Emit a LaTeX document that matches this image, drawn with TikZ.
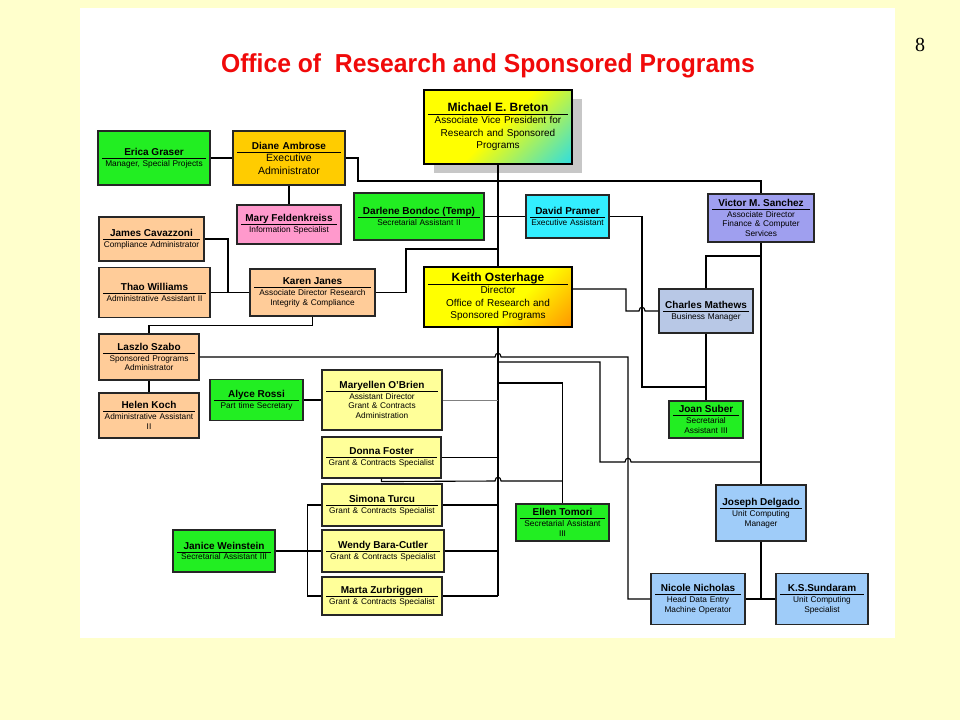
\documentclass[tikz,border=0pt]{standalone}
\usepackage{graphicx}
\usepackage{fontspec}
\setmainfont{Liberation Sans}
\newfontfamily\pagenumfont{Liberation Serif}
\usetikzlibrary{calc,shadows}
\definecolor{slidebg}{HTML}{FFFFCC}
\definecolor{titlered}{HTML}{F00A0A}
\definecolor{boxgreen}{HTML}{22EE22}
\definecolor{boxgold}{HTML}{FFCC00}
\definecolor{boxpink}{HTML}{FF99CC}
\definecolor{boxpeach}{HTML}{FFCC99}
\definecolor{boxaqua}{HTML}{33EEFF}
\definecolor{boxlavender}{HTML}{9F9FEF}
\definecolor{boxsteel}{HTML}{B8C8E6}
\definecolor{boxcream}{HTML}{FFFF99}
\definecolor{boxsky}{HTML}{9FCCF9}
\definecolor{boxorange}{HTML}{FF9A00}
\definecolor{boxteal}{HTML}{30DDE0}
\pgfdeclareverticalshading{bretonfill}{100bp}{color(0bp)=(boxteal); color(15bp)=(boxteal); %
  color(50bp)=(yellow); color(100bp)=(yellow)}
\pgfdeclareverticalshading{osterhagefill}{100bp}{color(0bp)=(boxorange); color(16bp)=(boxorange); %
  color(42bp)=(yellow); color(100bp)=(yellow)}
\newcommand{\who}[2][10]{{\fontsize{#1}{13}\selectfont\bfseries #2\rule[-2.5pt]{0pt}{2.5pt}\par}%
  \hrule height 0.8pt\vspace{1.5pt}}

\begin{document}
\begin{tikzpicture}[x=1pt, y=-1pt, %
    orgbox/.style={rectangle, draw=black!85, line width=1.1pt, inner xsep=4, inner ysep=1, %
                   align=center, font=\fontsize{8.3}{9.8}\selectfont},
    chief/.style={orgbox, line width=2pt, draw=black, font=\fontsize{10}{12.5}\selectfont},
    link/.style={line width=1.1pt}]
  \fill[slidebg] (0,0) rectangle (960,720);
  \fill[white] (80,7.5) rectangle (895,638);
  \useasboundingbox (0,0) rectangle (960,720);
%
  \node[text=titlered, font=\fontsize{26}{30}\selectfont\bfseries] (Title) at (488,66) %
       {\scalebox{0.95}[1]{Office of\ \ Research and Sponsored Programs}};
  \node[font=\pagenumfont\fontsize{20}{20}\selectfont] (PageNum) at (920,45) {8};
%
  \node[chief, shade, shading=bretonfill, shading angle=45, %
        drop shadow={shadow xshift=10pt, shadow yshift=-9pt, fill=black!22, opacity=1}, %
        minimum width=148, minimum height=74, text width=140] (Breton) at (498,127) %
       {\who[12]{Michael E. Breton}Associate Vice President for\\Research and Sponsored\\Programs};
  \node[chief, shade, shading=osterhagefill, shading angle=45, %
        minimum width=148, minimum height=60, text width=140] (Osterhage) at (498,297) %
       {\who[12]{Keith Osterhage}Director\\Office of Research and\\Sponsored Programs};
%
  \node[orgbox, fill=boxgreen, minimum width=112, minimum height=54, text width=104] %
       (Graser) at (154,158) {\who{Erica Graser}Manager, Special Projects};
  \node[orgbox, fill=boxgold, minimum width=112, minimum height=54, text width=104, %
        font=\fontsize{10.5}{12.5}\selectfont] %
       (Ambrose) at (289,158) {\who{Diane Ambrose}Executive\\Administrator};
  \node[orgbox, fill=boxpink, minimum width=104, minimum height=39, text width=96] %
       (Feldenkreiss) at (289,224.5) {\who{Mary Feldenkreiss}Information Specialist};
  \node[orgbox, fill=boxpeach, minimum width=105, minimum height=44, text width=97] %
       (Cavazzoni) at (151.5,239) {\who{James Cavazzoni}Compliance Administrator};
  \node[orgbox, fill=boxpeach, minimum width=111, minimum height=50, text width=103] %
       (Williams) at (154.5,292.5) {\who{Thao Williams}Administrative Assistant II};
  \node[orgbox, fill=boxpeach, minimum width=125, minimum height=47, text width=117] %
       (Janes) at (312.5,292.5) {\who{Karen Janes}Associate Director Research\\Integrity \& Compliance};
  \node[orgbox, fill=boxpeach, minimum width=100, minimum height=46, text width=92] %
       (Szabo) at (149,357) {\who{Laszlo Szabo}Sponsored Programs\\Administrator};
  \node[orgbox, fill=boxpeach, minimum width=100, minimum height=45, text width=92] %
       (Koch) at (149,415.5) {\who{Helen Koch}Administrative Assistant\\II};
%
  \node[orgbox, fill=boxgreen, minimum width=130, minimum height=47, text width=122] %
       (Bondoc) at (419,216.5) {\who{Darlene Bondoc (Temp)}Secretarial Assistant II};
  \node[orgbox, fill=boxaqua, minimum width=83, minimum height=43, text width=75] %
       (Pramer) at (567.5,216.5) {\who{David Pramer}Executive Assistant};
  \node[orgbox, fill=boxlavender, minimum width=106, minimum height=48, text width=98] %
       (Sanchez) at (761,218) {\who{Victor M. Sanchez}Associate Director\\Finance \& Computer\\Services};
  \node[orgbox, fill=boxsteel, minimum width=94, minimum height=44, text width=86] %
       (Mathews) at (706,311) {\who{Charles Mathews}Business Manager};
  \node[orgbox, fill=boxgreen, minimum width=74, minimum height=37, text width=66] %
       (Suber) at (706,419.5) {\who{Joan Suber}Secretarial\\Assistant III};
%
  \node[orgbox, fill=boxgreen, minimum width=93, minimum height=41, text width=85] %
       (Rossi) at (256.5,400) {\who{Alyce Rossi}Part time Secretary};
  \node[orgbox, fill=boxcream, minimum width=120, minimum height=60, text width=112] %
       (OBrien) at (382,400) {\who{Maryellen O'Brien}Assistant Director\\Grant \& Contracts\\Administration};
  \node[orgbox, fill=boxcream, minimum width=119, minimum height=41, text width=111] %
       (Foster) at (381.5,457.5) {\who{Donna Foster}Grant \& Contracts Specialist};
  \node[orgbox, fill=boxcream, minimum width=120, minimum height=42, text width=112] %
       (Turcu) at (382,505) {\who{Simona Turcu}Grant \& Contracts Specialist};
  \node[orgbox, fill=boxcream, minimum width=122, minimum height=42, text width=114] %
       (BaraCutler) at (383,551) {\who{Wendy Bara-Cutler}Grant \& Contracts Specialist};
  \node[orgbox, fill=boxcream, minimum width=120, minimum height=38, text width=112] %
       (Zurbriggen) at (382,596) {\who{Marta Zurbriggen}Grant \& Contracts Specialist};
  \node[orgbox, fill=boxgreen, minimum width=102, minimum height=42, text width=94] %
       (Weinstein) at (224,551) {\who{Janice Weinstein}Secretarial Assistant III};
  \node[orgbox, fill=boxgreen, minimum width=93, minimum height=37, text width=85] %
       (Tomori) at (562.5,522.5) {\who{Ellen Tomori}Secretarial Assistant\\III};
%
  \node[orgbox, fill=boxsky, minimum width=90, minimum height=56, text width=82] %
       (Delgado) at (761,513) {\who{Joseph Delgado}Unit Computing\\Manager};
  \node[orgbox, fill=boxsky, minimum width=94, minimum height=51, text width=86] %
       (Nicholas) at (698,599) {\who{Nicole Nicholas}Head Data Entry\\Machine Operator};
  \node[orgbox, fill=boxsky, minimum width=92, minimum height=51, text width=84] %
       (Sundaram) at (822,599) {\who{K.S.Sundaram}Unit Computing\\Specialist};
%
  \draw[link] (Graser) -- (Ambrose);
  \draw[link] (Ambrose.east) -- (358,158) |- (761,181) -- (Sanchez.north);
  \draw[link] (Ambrose) -- (Feldenkreiss);
  \draw[link] (Breton) -- (Osterhage);
  \draw[link] (Osterhage.south) -- (Osterhage.south |- Zurbriggen.east);
  \draw[link] (Bondoc) -- (Pramer);
  \draw[link] (Janes.east) -| (406,249) -- (Breton.south |- 0,249);
  \draw[link] (Cavazzoni.east) -| (228,292.5);
  \draw[link] (Williams) -- (Janes);
  \draw[link] (Janes.south) -- ++(0,9) -| (Szabo.north);
  \draw[link] (Szabo) -- (Koch);
  \draw[link] (Szabo.east) -- (495,357) .. controls (495,352) and (501,352) .. (501,357) %
    -| (628,599) -- (Nicholas.west);
  \draw[link] (Osterhage.south |- 0,362) -| (600,462) -- (625,462) %
    .. controls (625,457) and (631,457) .. (631,462) -- (Delgado.north |- 0,462);
  \draw[link] (Sanchez) -- (Delgado);
  \draw[link] (Mathews.north) |- (Sanchez.south |- 0,256);
  \draw[link] (Osterhage.south |- 0,383) -| (Tomori.north);
  \draw[link] (Foster.south) -- ++(0,3) -- (495,481) .. controls (495,476) and (501,476) .. (501,481) %
    -- (Tomori.north |- 0,481);
  \draw[line width=0.8pt, black!50] (OBrien) -- (OBrien.east -| Osterhage.south);
  \draw[link] (Foster) -- (Foster.east -| Osterhage.south);
  \draw[link] (Turcu) -- (Turcu.east -| Osterhage.south);
  \draw[link] (BaraCutler) -- (BaraCutler.east -| Osterhage.south);
  \draw[link] (Zurbriggen) -- (Zurbriggen.east -| Osterhage.south);
  \draw[link] (Rossi) -- (OBrien);
  \draw[link] (Weinstein) -- (BaraCutler);
  \draw[link] (Turcu.west) -- ++(-14,0) |- (Zurbriggen.west);
  \draw[link] ([yshift=8pt]Osterhage.east) -- (626,289) -- (626,311) -- (639,311) %
    .. controls (639,306) and (645,306) .. (645,311) -- (Mathews.west);
  \draw[link] (Pramer.east) -| (642,387) -- (Mathews.south |- 0,387);
  \draw[link] (Mathews) -- (Suber);
  \draw[link] (Delgado.south) -- (Delgado.south |- Nicholas.east);
  \draw[link] (Nicholas) -- (Sundaram);
\end{tikzpicture}
\end{document}
